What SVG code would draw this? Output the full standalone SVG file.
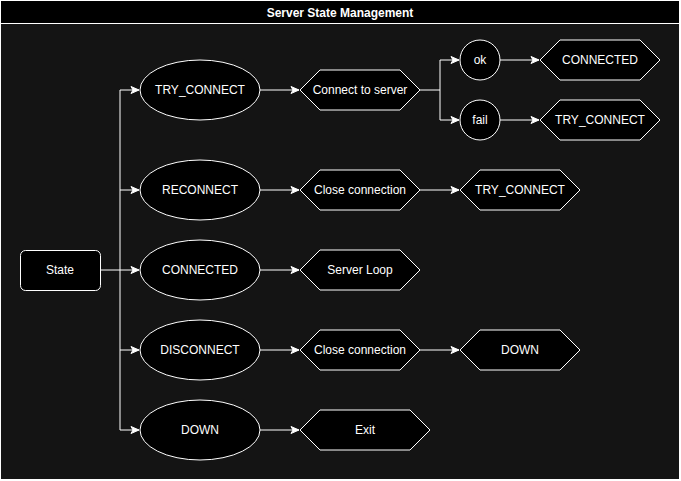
<svg xmlns="http://www.w3.org/2000/svg" width="681" height="481" viewBox="0 0 681 481">
<style>
.shape{fill:#000;stroke:#fff;stroke-width:1}
.t{fill:#fff;font-family:"Liberation Sans",Arial,sans-serif;font-size:12px;text-anchor:middle;dominant-baseline:central}
.title{font-weight:bold}
.c{fill:none;stroke:#fff;stroke-width:1}
</style>
<defs>
<marker id="arr" markerUnits="userSpaceOnUse" markerWidth="10" markerHeight="10" viewBox="0 0 10 10" refX="9" refY="5" orient="auto">
<path d="M1,1.5 L9,5 L1,8.5 L3,5 Z" fill="#fff" stroke="#fff" stroke-width="1"/>
</marker>
</defs>
<g id="container">
<rect x="0.5" y="0.5" width="679" height="479" fill="#141414" stroke="#fff"/>
<rect x="0.5" y="0.5" width="679" height="23" fill="#000" stroke="#fff"/>
<text class="t title" x="340" y="13">Server State Management</text>
</g>
<g id="connectors">
<path class="c" d="M100,270 H139" marker-end="url(#arr)"/>
<path class="c" d="M120,270 V90 H139" marker-end="url(#arr)"/>
<path class="c" d="M120,190 H139" marker-end="url(#arr)"/>
<path class="c" d="M120,270 V350 H139" marker-end="url(#arr)"/>
<path class="c" d="M120,350 V430 H139" marker-end="url(#arr)"/>
<path class="c" d="M260,90 H299" marker-end="url(#arr)"/>
<path class="c" d="M260,190 H299" marker-end="url(#arr)"/>
<path class="c" d="M260,270 H299" marker-end="url(#arr)"/>
<path class="c" d="M260,350 H299" marker-end="url(#arr)"/>
<path class="c" d="M260,430 H299" marker-end="url(#arr)"/>
<path class="c" d="M420,90 H440 V60 H459" marker-end="url(#arr)"/>
<path class="c" d="M440,90 V120 H459" marker-end="url(#arr)"/>
<path class="c" d="M500,60 H539" marker-end="url(#arr)"/>
<path class="c" d="M500,120 H539" marker-end="url(#arr)"/>
<path class="c" d="M420,190 H459" marker-end="url(#arr)"/>
<path class="c" d="M420,350 H459" marker-end="url(#arr)"/>
</g>
<g id="state"><rect class="shape" x="20.5" y="250.5" width="80" height="40" rx="5"/><text class="t" x="60" y="270">State</text></g>
<g id="try_connect"><ellipse class="shape" cx="200" cy="90" rx="60" ry="30"/><text class="t" x="200" y="90">TRY_CONNECT</text></g>
<g id="reconnect"><ellipse class="shape" cx="200" cy="190" rx="60" ry="30"/><text class="t" x="200" y="190">RECONNECT</text></g>
<g id="connected"><ellipse class="shape" cx="200" cy="270" rx="60" ry="30"/><text class="t" x="200" y="270">CONNECTED</text></g>
<g id="disconnect"><ellipse class="shape" cx="200" cy="350" rx="60" ry="30"/><text class="t" x="200" y="350">DISCONNECT</text></g>
<g id="down"><ellipse class="shape" cx="200" cy="430" rx="60" ry="30"/><text class="t" x="200" y="430">DOWN</text></g>
<g id="connect_to_server"><polygon class="shape" points="300,90 320,70 400,70 420,90 400,110 320,110"/><text class="t" x="360" y="90">Connect to server</text></g>
<g id="ok"><circle class="shape" cx="480" cy="60" r="20"/><text class="t" x="480" y="60">ok</text></g>
<g id="fail"><circle class="shape" cx="480" cy="120" r="20"/><text class="t" x="480" y="120">fail</text></g>
<g id="connected_hex"><polygon class="shape" points="540,60 560,40 640,40 660,60 640,80 560,80"/><text class="t" x="600" y="60">CONNECTED</text></g>
<g id="try_connect_hex1"><polygon class="shape" points="540,120 560,100 640,100 660,120 640,140 560,140"/><text class="t" x="600" y="120">TRY_CONNECT</text></g>
<g id="close_connection1"><polygon class="shape" points="300,190 320,170 400,170 420,190 400,210 320,210"/><text class="t" x="360" y="190">Close connection</text></g>
<g id="try_connect_hex2"><polygon class="shape" points="460,190 480,170 560,170 580,190 560,210 480,210"/><text class="t" x="520" y="190">TRY_CONNECT</text></g>
<g id="server_loop"><polygon class="shape" points="300,270 320,250 400,250 420,270 400,290 320,290"/><text class="t" x="360" y="270">Server Loop</text></g>
<g id="close_connection2"><polygon class="shape" points="300,350 320,330 400,330 420,350 400,370 320,370"/><text class="t" x="360" y="350">Close connection</text></g>
<g id="down_hex"><polygon class="shape" points="460,350 480,330 560,330 580,350 560,370 480,370"/><text class="t" x="520" y="350">DOWN</text></g>
<g id="exit"><polygon class="shape" points="300,430 320,410 410,410 430,430 410,450 320,450"/><text class="t" x="365" y="430">Exit</text></g>
</svg>
